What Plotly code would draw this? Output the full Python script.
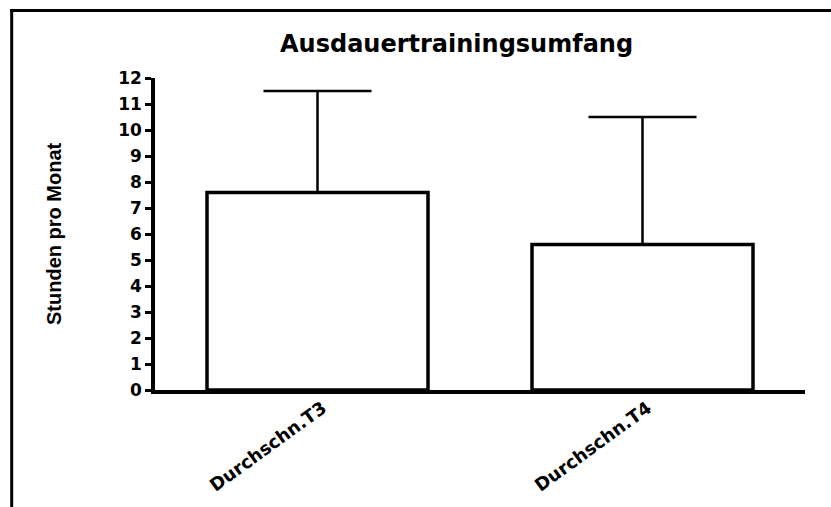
import plotly.graph_objects as go

# Monthly endurance-training volume, mean with upper SD
categories = ["Durchschn.T3", "Durchschn.T4"]
means = [7.6, 5.6]
sd_upper = [3.9, 4.9]
y_ticks = list(range(0, 13))

title_text = "Ausdauertrainingsumfang"
y_title = "Stunden pro Monat"

W, H = 831, 507
L, R, T, B = 155, 26, 78, 117
pw, ph = W - L - R, H - T - B


def px_x(x):
    return (x - L) / pw


def px_y(y):
    return (H - B - y) / ph


fig = go.Figure()
fig.add_trace(go.Bar(
    x=[0, 1],
    y=means,
    width=0.68,
    marker=dict(color="white", line=dict(color="black", width=3.5)),
    error_y=dict(type="data", symmetric=False, array=sd_upper,
                 arrayminus=[0, 0], color="black", thickness=2.5, width=54),
    showlegend=False,
    hoverinfo="skip",
))

bold = "DejaVu Sans"
fig.update_layout(
    width=W, height=H,
    margin=dict(l=L, r=R, t=T, b=B, autoexpand=False),
    paper_bgcolor="white", plot_bgcolor="white",
    font=dict(family=bold, color="black"),
    xaxis=dict(
        range=[-0.5, 1.5], tickvals=[0, 1], ticktext=categories,
        showline=True, linecolor="black", linewidth=3.5,
        ticks="", showgrid=False, zeroline=False, tickangle=-36,
        tickfont=dict(family=bold, size=18, weight="bold", color="black"),
        ticklabelstandoff=-3, ticklabelshift=5, automargin=False,
    ),
    yaxis=dict(
        range=[0, 12], tickvals=y_ticks,
        showline=True, linecolor="black", linewidth=3.5,
        ticks="outside", ticklen=6, tickwidth=2.5, tickcolor="black",
        showgrid=False, zeroline=False, automargin=False,
        tickfont=dict(family=bold, size=17, weight="bold", color="black"),
    ),
    annotations=[
        dict(text=title_text, xref="paper", yref="paper",
             x=px_x(456), y=px_y(44), xanchor="center", yanchor="middle",
             showarrow=False,
             font=dict(family=bold, size=24, weight="bold", color="black")),
        dict(text=y_title, xref="paper", yref="paper",
             x=px_x(54), y=px_y(234), xanchor="center", yanchor="middle",
             showarrow=False, textangle=-90,
             font=dict(family="Liberation Sans", size=20,
                       weight="bold", color="black")),
    ],
    shapes=[
        dict(type="line", xref="paper", yref="paper",
             x0=px_x(10), x1=px_x(W + 2), y0=px_y(10.5), y1=px_y(10.5),
             line=dict(color="black", width=3)),
        dict(type="line", xref="paper", yref="paper",
             x0=px_x(11.7), x1=px_x(11.7), y0=px_y(9), y1=px_y(H + 2),
             line=dict(color="black", width=3)),
    ],
)

fig.write_html("out.html")
